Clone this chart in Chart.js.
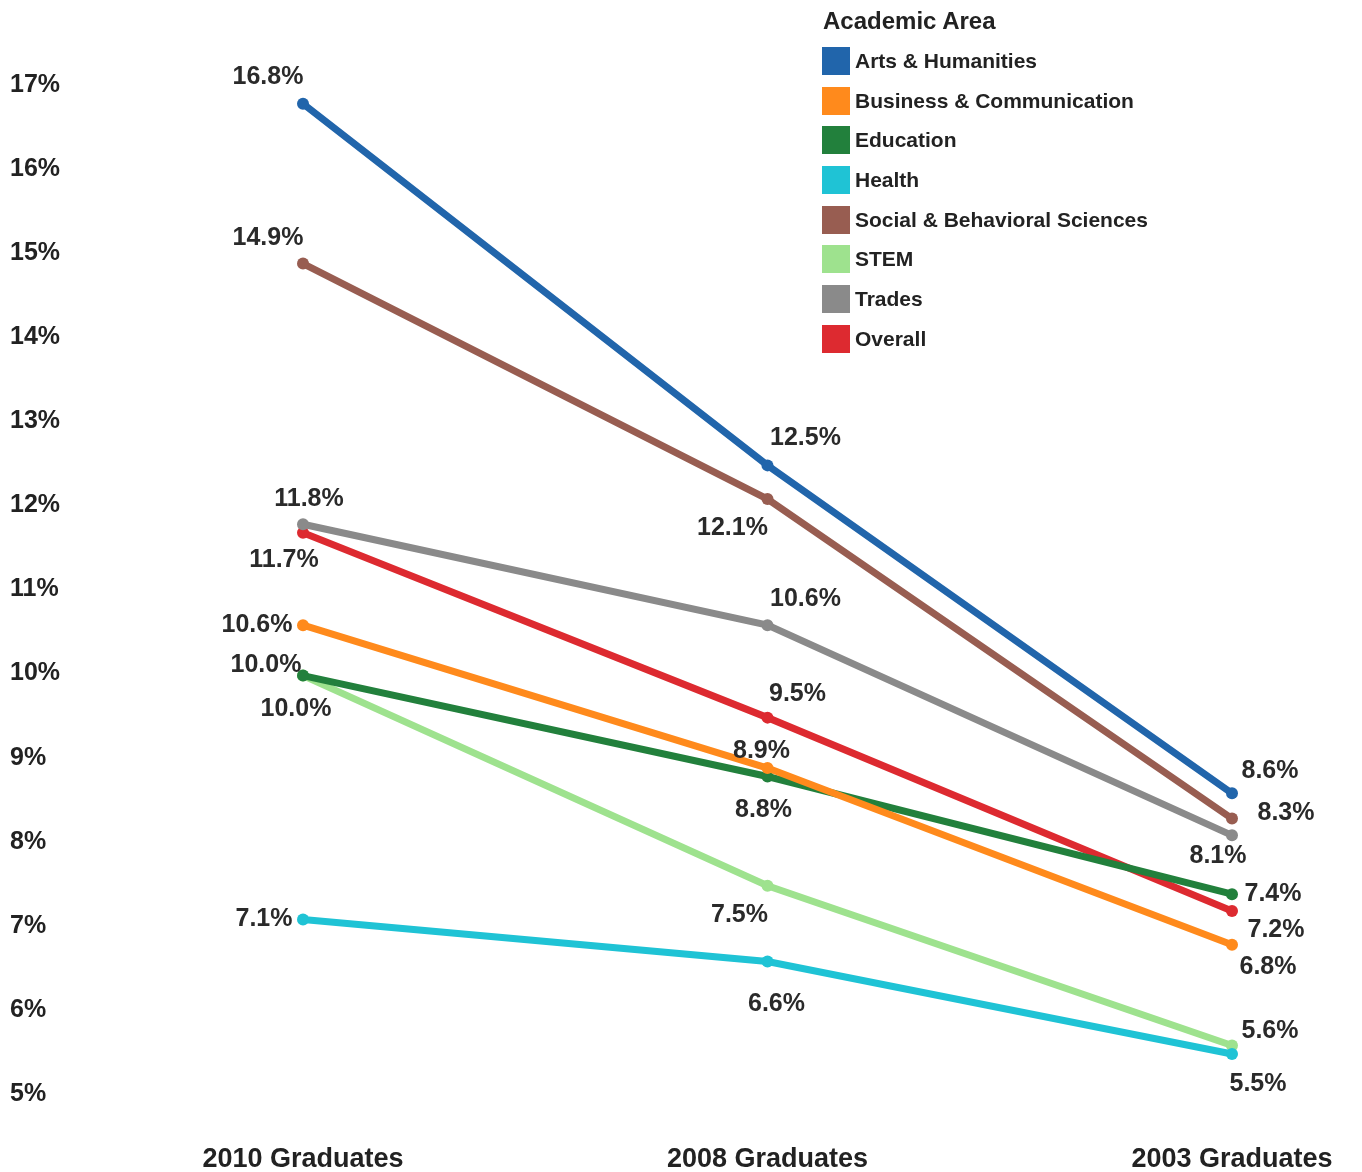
<!DOCTYPE html>
<html>
<head>
<meta charset="utf-8">
<title>Unemployment rate by academic area</title>
<script src="https://cdn.jsdelivr.net/npm/chart.js@4/dist/chart.umd.min.js"></script>
<style>
  html, body { margin: 0; padding: 0; background: #ffffff; }
  #wrap { position: relative; width: 1362px; height: 1172px; }
  #chart { position: absolute; left: 0; top: 0; }
  #legend {
    position: absolute; left: 822px; top: 5px;
    font-family: "Liberation Sans", Arial, sans-serif; font-weight: bold; color: #222;
  }
  #legend .title { font-size: 24px; height: 32px; line-height: 32px; margin-left: 1px; margin-bottom: 4px; }
  #legend .item { display: flex; align-items: center; height: 39.7px; font-size: 21px; }
  #legend .swatch { width: 28px; height: 28px; margin-right: 5px; box-sizing: border-box; }
</style>
</head>
<body>
<div id="wrap">
  <canvas id="chart" width="1362" height="1172"></canvas>
  <div id="legend"></div>
</div>
<script>
// Cohorts along the x axis
const categories = ['2010 Graduates', '2008 Graduates', '2003 Graduates'];

// Unemployment rate (%) per academic area, one value per cohort
const artsHumanities    = [16.8, 12.5, 8.6];
const businessComm      = [10.6, 8.9, 6.8];
const education         = [10.0, 8.8, 7.4];
const health            = [7.1, 6.6, 5.5];
const socialBehavioral  = [14.9, 12.1, 8.3];
const stem              = [10.0, 7.5, 5.6];
const trades            = [11.8, 10.6, 8.1];
const overall           = [11.7, 9.5, 7.2];

// Value axis range and tick step (percent)
const yMin = 5, yMax = 17, yStep = 1;

const legendTitle = 'Academic Area';

// Series: name, values, colour, and where each value label sits relative to its point (px)
const series = [
  { name: 'Arts & Humanities',            values: artsHumanities,   color: '#2165ab', labelAt: [[-35, -27], [38, -27], [38, -22]] },
  { name: 'Business & Communication',     values: businessComm,     color: '#ff8a1c', labelAt: [[-46, 0], [-6, -17], [36, 22]] },
  { name: 'Education',                    values: education,        color: '#22803c', labelAt: [[-37, -10], [-4, 34], [41, 0]] },
  { name: 'Health',                       values: health,           color: '#1fc3d5', labelAt: [[-39, 0], [9, 43], [26, 30]] },
  { name: 'Social & Behavioral Sciences', values: socialBehavioral, color: '#985d51', labelAt: [[-35, -25], [-35, 29], [54, -5]] },
  { name: 'STEM',                         values: stem,             color: '#9ee28e', labelAt: [[-7, 34], [-28, 29], [38, -14]] },
  { name: 'Trades',                       values: trades,           color: '#8a8a8a', labelAt: [[6, -25], [38, -26], [-14, 21]] },
  { name: 'Overall',                      values: overall,          color: '#dd2a30', labelAt: [[-19, 27], [30, -24], [44, 19]] }
];

const FONT = '"Liberation Sans", Arial, sans-serif';

// Draws each point's value as a percentage next to it
const valueLabels = {
  id: 'valueLabels',
  afterDatasetsDraw(chart) {
    const ctx = chart.ctx;
    ctx.save();
    ctx.font = 'bold 25px ' + FONT;
    ctx.fillStyle = '#2a2a2a';
    ctx.textAlign = 'center';
    ctx.textBaseline = 'middle';
    chart.data.datasets.forEach((ds, di) => {
      const meta = chart.getDatasetMeta(di);
      meta.data.forEach((pt, i) => {
        const off = ds.labelAt[i];
        ctx.fillText(ds.data[i].toFixed(1) + '%', pt.x + off[0], pt.y + off[1]);
      });
    });
    ctx.restore();
  }
};

const chart = new Chart(document.getElementById('chart'), {
  type: 'line',
  data: {
    labels: categories,
    datasets: series.map(s => ({
      label: s.name,
      data: s.values,
      labelAt: s.labelAt,
      borderColor: s.color,
      backgroundColor: s.color,
      borderWidth: 7,
      pointRadius: 6,
      pointBorderWidth: 0,
      pointBackgroundColor: s.color,
      tension: 0,
      fill: false
    }))
  },
  options: {
    responsive: false,
    devicePixelRatio: 1,
    animation: false,
    layout: { padding: { left: 10, right: 130, top: 87, bottom: 0 } },
    plugins: {
      legend: { display: false },
      tooltip: { enabled: false }
    },
    scales: {
      x: {
        type: 'category',
        offset: false,
        grid: { display: false, drawTicks: false },
        border: { display: false },
        // fixed axis band; the end labels may overhang into the side margins
        afterFit(scale) {
          scale.height = 76;
          scale.paddingLeft = 0;
          scale.paddingRight = 0;
        },
        ticks: {
          padding: 47,
          color: '#222',
          font: { family: FONT, size: 27, weight: 'bold' },
          maxRotation: 0,
          autoSkip: false
        }
      },
      y: {
        min: yMin,
        max: yMax,
        grid: { display: false, drawTicks: false },
        border: { display: false },
        afterFit(scale) { scale.width = 293; },
        ticks: {
          stepSize: yStep,
          crossAlign: 'far',
          labelOffset: -2,
          color: '#222',
          font: { family: FONT, size: 25, weight: 'bold' },
          callback: v => v + '%'
        }
      }
    }
  },
  plugins: [valueLabels]
});

// Legend built from the chart's own datasets
const legendEl = document.getElementById('legend');
const titleEl = document.createElement('div');
titleEl.className = 'title';
titleEl.textContent = legendTitle;
legendEl.appendChild(titleEl);
chart.data.datasets.forEach(ds => {
  const row = document.createElement('div');
  row.className = 'item';
  const sw = document.createElement('span');
  sw.className = 'swatch';
  sw.style.background = ds.borderColor;
  const tx = document.createElement('span');
  tx.textContent = ds.label;
  row.appendChild(sw);
  row.appendChild(tx);
  legendEl.appendChild(row);
});
</script>
</body>
</html>
